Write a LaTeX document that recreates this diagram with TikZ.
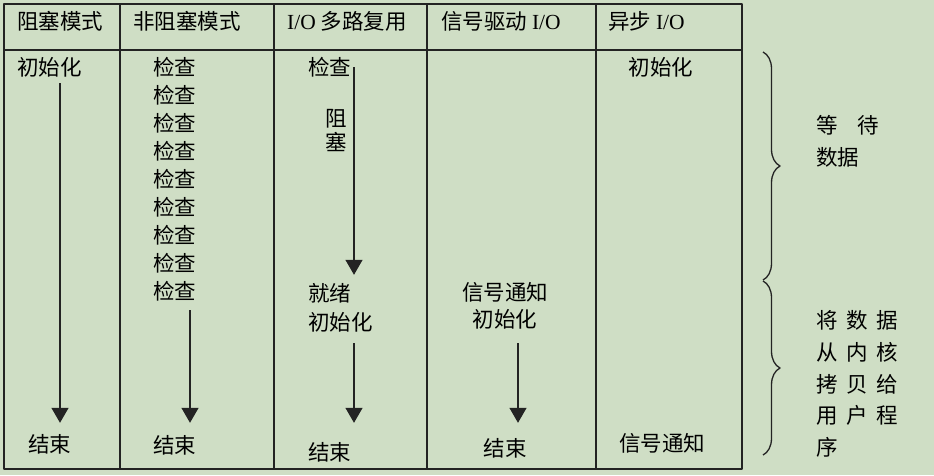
\documentclass[tikz,border=0pt]{standalone}
\usepackage{fontspec}
\setmainfont{Liberation Serif}
\newfontfamily\cjk{Noto Sans CJK SC}
\usetikzlibrary{arrows.meta,decorations.pathreplacing}
\definecolor{bggreen}{RGB}{207,222,197}
\definecolor{ink}{RGB}{35,35,35}
\newcommand{\lio}{{\rmfamily I/O}}
\newcommand{\gap}{\hspace{8.5pt}}

\begin{document}
\begin{tikzpicture}[x=1pt, y=-1pt, >={Triangle[width=17pt,length=15pt]}, line join=round,
	font=\cjk\fontsize{21.5}{24}\selectfont,
	txt/.style={inner sep=0pt, text height=18pt, text depth=2pt},
	flow/.style={->, line width=1.3pt, ink, shorten <=8pt, shorten >=12pt},
	frame/.style={line width=1.6pt, ink}]
	% 背景与边界
	\fill[bggreen] (0,0) rectangle (934,475);
	\useasboundingbox (0,0) rectangle (934,475);

	% 箭头所在的竖线位置
	\coordinate (x1) at (60,0);
	\coordinate (x2) at (190,0);
	\coordinate (x3) at (354,0);
	\coordinate (x4) at (518,0);

	% 表格
	\draw[frame] (4,4) rectangle (742,469);
	\draw[frame] (4,50) -- (742,50);
	\foreach \x in {120, 274, 427, 596} {
		\draw[frame] (\x,4) -- (\x,469);
	}

	% 表头
	\foreach \x/\t/\n in {17/阻塞模式/h1, 133/非阻塞模式/h2, 287/\lio{} 多路复用/h3, 441/信号驱动 \lio/h4, 608/异步 \lio/h5} {
		\node[txt, anchor=west] (\n) at (\x,21) {\t};
	}

	% 阻塞模式
	\node[txt, anchor=west] (init1) at (17,67) {初始化};
	\node[txt, anchor=west] (end1) at (28,444) {结束};

	% 非阻塞模式
	\foreach \i in {1,...,9} {
		\node[txt, anchor=west] (c\i) at (153,{67+28.1*(\i-1)}) {检查};
	}
	\node[txt, anchor=west] (end2) at (153,445) {结束};

	% I/O 多路复用
	\node[txt, anchor=west] (chk3) at (308,67) {检查};
	\node[inner sep=0pt, align=center] (blk3) at (336,130) {阻\\塞};
	\node[txt, anchor=west] (ready3) at (308,293) {就绪};
	\node[txt, anchor=west] (init3) at (308,322) {初始化};
	\node[txt, anchor=west] (end3) at (308,452) {结束};

	% 信号驱动 I/O
	\node[txt] (sig4) at (505,292) {信号通知};
	\node[txt] (init4) at (505,319) {初始化};
	\node[txt] (end4) at (505,448) {结束};

	% 异步 I/O
	\node[txt] (init5) at (661,67) {初始化};
	\node[txt] (sig5) at (662,443) {信号通知};

	% 箭头
	\draw[flow, shorten <=6pt, shorten >=11pt] (init1.south -| x1) -- (end1.north -| x1);
	\draw[flow] (c9.south -| x2) -- (end2.north -| x2);
	\draw[flow, shorten <=0pt, shorten >=8pt] (chk3.east -| x3) -- (ready3.north -| x3);
	\draw[flow, shorten <=11pt, shorten >=19pt] (init3.south -| x3) -- (end3.north -| x3);
	\draw[flow, shorten <=14pt, shorten >=15pt] (init4.south -| x4) -- (end4.north -| x4);

	% 右侧大括号
	\draw[line width=1.3pt, ink, decorate, decoration={brace, amplitude=17pt}] (763,52) -- (763,280);
	\draw[line width=1.3pt, ink, decorate, decoration={brace, amplitude=17pt}] (763,281) -- (763,455);

	% 右侧说明
	\node[txt, anchor=west] (wait) at (816,125) {等\hspace{19.5pt}待};
	\node[txt, anchor=west] (data) at (816,157) {数据};
	\foreach \y/\t/\n in {320/将\gap 数\gap 据/k1, 352/从\gap 内\gap 核/k2, 384/拷\gap 贝\gap 给/k3, 415/用\gap 户\gap 程/k4, 447/序/k5} {
		\node[txt, anchor=west] (\n) at (816,\y) {\t};
	}
\end{tikzpicture}
\end{document}
